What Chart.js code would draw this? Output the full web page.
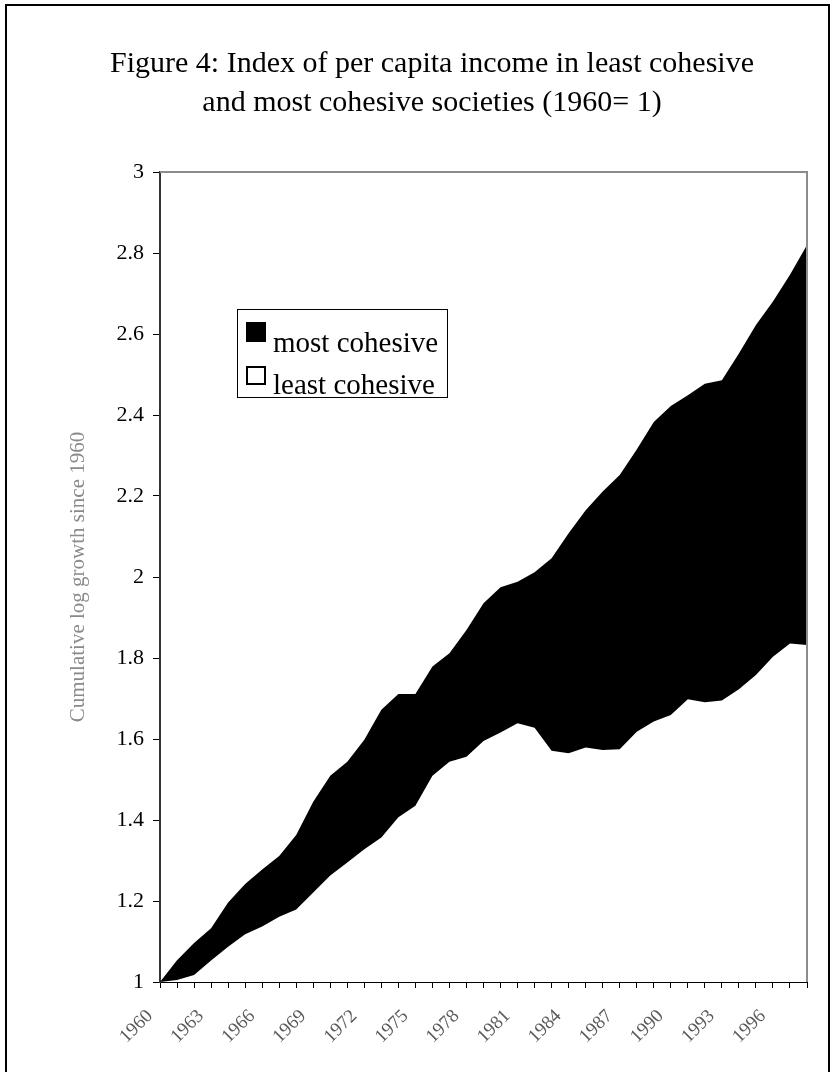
<!DOCTYPE html>
<html>
<head>
<meta charset="utf-8">
<title>Figure 4</title>
<script src="https://cdn.jsdelivr.net/npm/chart.js@4.4.0/dist/chart.umd.min.js"></script>
<style>
  body { margin: 0; background: #ffffff; }
  #wrap { position: relative; width: 833px; height: 1072px; }
</style>
</head>
<body>
<div id="wrap"><canvas id="cohesionChart" width="833" height="1072"></canvas></div>
<script>
// Chart data
var years = ['1960', '1961', '1962', '1963', '1964', '1965', '1966', '1967', '1968', '1969',
             '1970', '1971', '1972', '1973', '1974', '1975', '1976', '1977', '1978', '1979',
             '1980', '1981', '1982', '1983', '1984', '1985', '1986', '1987', '1988', '1989',
             '1990', '1991', '1992', '1993', '1994', '1995', '1996', '1997', '1998'];

var mostCohesive = [1.000, 1.054, 1.096, 1.133, 1.196, 1.242, 1.278, 1.311, 1.363, 1.445,
                    1.509, 1.544, 1.598, 1.672, 1.711, 1.711, 1.779, 1.812, 1.869, 1.935,
                    1.975, 1.988, 2.012, 2.046, 2.108, 2.165, 2.211, 2.252, 2.315, 2.383,
                    2.422, 2.449, 2.477, 2.486, 2.552, 2.622, 2.680, 2.746, 2.820];

var leastCohesive = [1.000, 1.005, 1.017, 1.053, 1.087, 1.118, 1.137, 1.161, 1.179, 1.221,
                     1.263, 1.295, 1.328, 1.357, 1.407, 1.435, 1.509, 1.544, 1.556, 1.595,
                     1.616, 1.639, 1.628, 1.571, 1.565, 1.579, 1.573, 1.575, 1.618, 1.643,
                     1.659, 1.698, 1.691, 1.695, 1.723, 1.758, 1.803, 1.836, 1.832];

var yTickLabels = ['1', '1.2', '1.4', '1.6', '1.8', '2', '2.2', '2.4', '2.6', '2.8', '3'];

var titleLines = ['Figure 4: Index of per capita income in least cohesive',
                  'and most cohesive societies (1960= 1)'];

var serif = '"Liberation Serif", "Times New Roman", Times, serif';

// Outer frame, title, grey plot border and the legend inside the plot
var decorations = {
    id: 'decorations',
    afterDatasetsDraw: function(chart) {
        var ctx = chart.ctx;
        var a = chart.chartArea;
        ctx.save();
        // grey top and right border of the plot area
        ctx.strokeStyle = '#8c8c8c';
        ctx.lineWidth = 2;
        ctx.beginPath();
        ctx.moveTo(a.left, a.top);
        ctx.lineTo(a.right, a.top);
        ctx.lineTo(a.right, a.bottom);
        ctx.stroke();
        ctx.restore();
    },
    afterDraw: function(chart) {
        var ctx = chart.ctx;
        ctx.save();

        // frame around the figure
        ctx.strokeStyle = '#000000';
        ctx.lineWidth = 2;
        ctx.beginPath();
        ctx.moveTo(6, 1080);
        ctx.lineTo(6, 5);
        ctx.lineTo(829, 5);
        ctx.lineTo(829, 1080);
        ctx.stroke();

        // title
        ctx.fillStyle = '#000000';
        ctx.font = '30px ' + serif;
        ctx.textAlign = 'center';
        ctx.textBaseline = 'alphabetic';
        ctx.fillText(titleLines[0], 432, 72);
        ctx.fillText(titleLines[1], 432, 111);

        // legend box
        ctx.fillStyle = '#ffffff';
        ctx.fillRect(237, 309, 210, 88);
        ctx.strokeStyle = '#000000';
        ctx.lineWidth = 1;
        ctx.strokeRect(237.5, 309.5, 210, 88);

        var ds = chart.data.datasets;
        // most cohesive swatch
        ctx.fillStyle = ds[0].backgroundColor;
        ctx.fillRect(246, 322, 20, 20);
        // least cohesive swatch
        ctx.fillStyle = ds[1].backgroundColor;
        ctx.fillRect(246, 366, 20, 19);
        ctx.lineWidth = 2;
        ctx.strokeRect(247, 367, 18, 17);

        ctx.fillStyle = '#000000';
        ctx.font = '29px ' + serif;
        ctx.textAlign = 'left';
        ctx.fillText(ds[0].label, 273, 352);
        ctx.fillText(ds[1].label, 273, 394);

        ctx.restore();
    }
};

var ctx = document.getElementById('cohesionChart').getContext('2d');
var cohesionChart = new Chart(ctx, {
    type: 'line',
    data: {
        labels: years,
        datasets: [{
            label: 'most cohesive',
            data: mostCohesive,
            backgroundColor: '#000000',
            borderColor: '#000000',
            borderWidth: 0,
            pointRadius: 0,
            tension: 0,
            fill: 'origin',
            order: 1
        }, {
            label: 'least cohesive',
            data: leastCohesive,
            backgroundColor: '#ffffff',
            borderColor: '#ffffff',
            borderWidth: 0,
            pointRadius: 0,
            tension: 0,
            fill: 'origin',
            order: 0
        }]
    },
    options: {
        responsive: false,
        animation: false,
        devicePixelRatio: 1,
        layout: {
            padding: { top: 172, right: 26, bottom: 0, left: 0 }
        },
        plugins: {
            legend: { display: false },
            title: { display: false },
            tooltip: { enabled: false }
        },
        scales: {
            x: {
                afterFit: function(scale) { scale.height = 90; },
                ticks: {
                    autoSkip: false,
                    minRotation: 45,
                    maxRotation: 45,
                    color: '#5a5a5a',
                    font: { family: serif, size: 19 },
                    padding: 7,
                    callback: function(value, index) {
                        // trailing spaces push the rotated label down-left of its tick
                        return index % 3 === 0 ? years[index] + '   ' : '';
                    }
                },
                grid: {
                    drawOnChartArea: false,
                    tickLength: 6,
                    color: '#000000'
                },
                border: { color: '#000000', width: 2 }
            },
            y: {
                min: 1,
                max: 3,
                afterFit: function(scale) { scale.width = 160; },
                ticks: {
                    stepSize: 0.2,
                    color: '#000000',
                    font: { family: serif, size: 22 },
                    padding: 9,
                    callback: function(value, index) { return yTickLabels[index]; }
                },
                grid: {
                    drawOnChartArea: false,
                    tickLength: 7,
                    color: '#000000'
                },
                border: { color: '#333333', width: 2 },
                title: {
                    display: true,
                    text: 'Cumulative log growth since 1960',
                    color: '#8a8a8a',
                    font: { family: serif, size: 21 },
                    padding: { top: 66, bottom: 0 }
                }
            }
        }
    },
    plugins: [decorations]
});
</script>
</body>
</html>
